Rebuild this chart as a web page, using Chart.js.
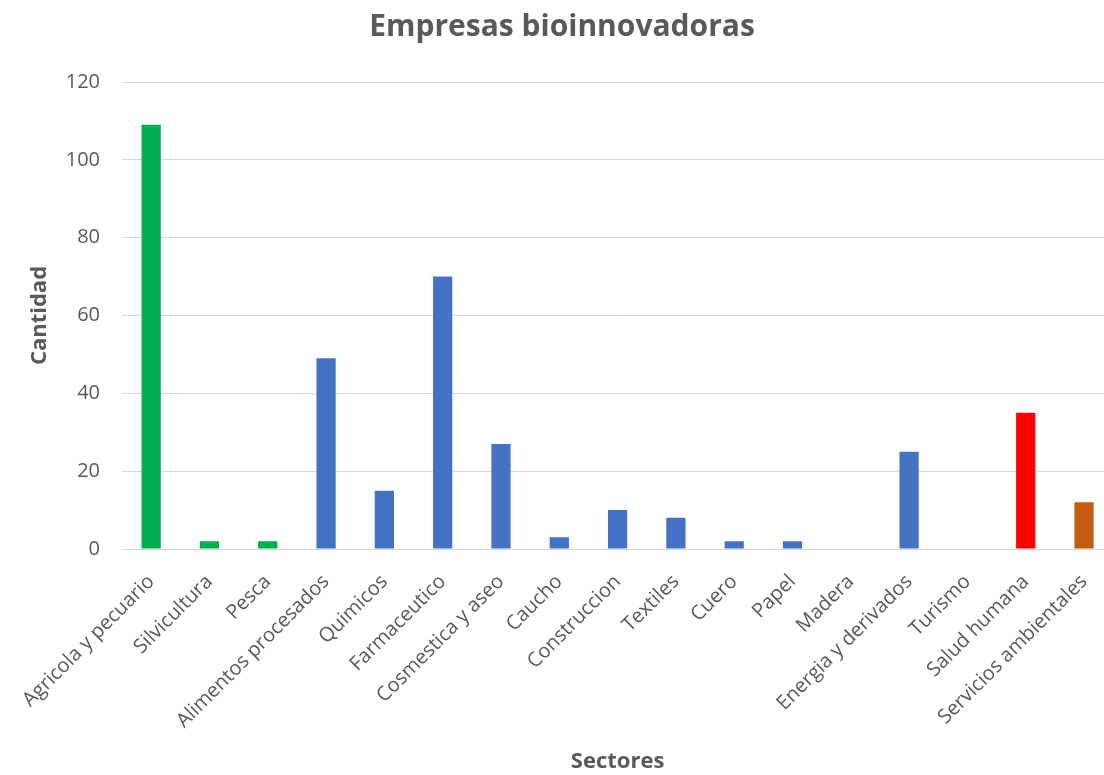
<!DOCTYPE html>
<html>
<head>
<meta charset="utf-8">
<script src="https://cdn.jsdelivr.net/npm/chart.js@4"></script>
<style>
  html, body { margin: 0; padding: 0; background: #fff; overflow: hidden; }
  #wrap { width: 1122px; height: 775px; }
</style>
</head>
<body>
<div id="wrap"><canvas id="chart" width="1122" height="775"></canvas></div>
<script>
// --- datos ---
const sectores = [
    "Agricola y pecuario", "Silvicultura", "Pesca", "Alimentos procesados", "Quimicos",
    "Farmaceutico", "Cosmestica y aseo", "Caucho", "Construccion", "Textiles",
    "Cuero", "Papel", "Madera", "Energia y derivados", "Turismo",
    "Salud humana", "Servicios ambientales"
];
const cantidad = [109, 2, 2, 49, 15, 70, 27, 3, 10, 8, 2, 2, 0, 25, 0, 35, 12];
const colores = [
    "#00B050", "#00B050", "#00B050", "#4472C4", "#4472C4",
    "#4472C4", "#4472C4", "#4472C4", "#4472C4", "#4472C4",
    "#4472C4", "#4472C4", "#4472C4", "#4472C4", "#4472C4",
    "#FF0000", "#C55A11"
];
const yTicks = [0, 20, 40, 60, 80, 100, 120];

const FONT = "'Open Sans', 'Noto Sans', sans-serif";
const GREY = '#595959';

const ctx = document.getElementById('chart').getContext('2d');
new Chart(ctx, {
    type: 'bar',
    data: {
        labels: sectores,
        datasets: [{
            data: cantidad,
            backgroundColor: colores,
            borderWidth: 0,
            barPercentage: 0.33,
            categoryPercentage: 1
        }]
    },
    options: {
        responsive: false,
        animation: false,
        layout: { padding: { left: 2, right: 0, top: 0, bottom: 0 } },
        plugins: {
            legend: { display: false },
            tooltip: { enabled: false },
            title: {
                display: true,
                text: 'Empresas bioinnovadoras',
                color: GREY,
                font: { family: FONT, size: 30, weight: 'bold', lineHeight: 1.2 },
                padding: { top: 9, bottom: 37 }
            }
        },
        scales: {
            x: {
                afterFit: s => { s.height = 226; },
                grid: { display: false, drawTicks: false },
                border: { display: true, color: '#d9d9d9', width: 1 },
                ticks: {
                    color: GREY,
                    font: { family: FONT, size: 20 },
                    maxRotation: 45, minRotation: 45,
                    autoSkip: false,
                    padding: 21
                },
                title: {
                    display: true, text: 'Sectores', color: GREY,
                    font: { family: FONT, size: 22, weight: 'bold', lineHeight: 1.2 },
                    padding: { top: 0, bottom: 0 }
                }
            },
            y: {
                min: 0, max: 120,
                afterFit: s => { s.width = 120; },
                afterBuildTicks: s => { s.ticks = yTicks.map(v => ({ value: v })); },
                grid: { color: '#d9d9d9', lineWidth: 1, drawTicks: false },
                border: { display: false },
                ticks: {
                    color: GREY,
                    font: { family: FONT, size: 20 },
                    padding: 22
                },
                title: {
                    display: true, text: 'Cantidad', color: GREY,
                    font: { family: FONT, size: 22, weight: 'bold', lineHeight: 1.2 },
                    padding: { top: 25, bottom: 0 }
                }
            }
        }
    }
});
</script>
</body>
</html>
